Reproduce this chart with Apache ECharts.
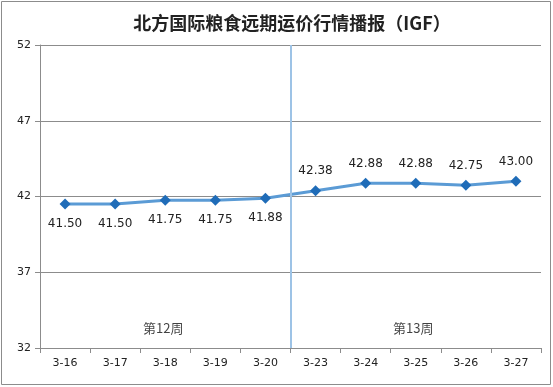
<!DOCTYPE html>
<html><head><meta charset="utf-8">
<script src="https://cdn.jsdelivr.net/npm/echarts@6/dist/echarts.min.js"></script>
<style>html,body{margin:0;padding:0;background:#fff}#c{width:553px;height:387px}</style>
</head><body><div id="c"></div>
<script>
const categories = ['3-16','3-17','3-18','3-19','3-20','3-23','3-24','3-25','3-26','3-27'];
const prices = [41.50, 41.50, 41.75, 41.75, 41.88, 42.38, 42.88, 42.88, 42.75, 43.00];
const labelBelow = [true, true, true, true, true, false, false, false, false, false];
const weekLabels = ['第12周', '第13周'];
const weekCenters = [2.46, 7.45];
const weekLabelY = 33.3;
const weekBoundary = 5;
const yTicks = [32, 37, 42, 47, 52];

const chart = echarts.init(document.getElementById('c'));
const font = 'DejaVu Sans, sans-serif';
chart.setOption({
  animation: false,
  title: {
    text: '北方国际粮食远期运价行情播报（IGF）',
    left: 287, textAlign: 'center', top: 9,
    textStyle: { fontSize: 18, fontWeight: 'bold', color: '#222', fontFamily: 'Noto Sans CJK SC, sans-serif' }
  },
  graphic: [{ type: 'rect', shape: { x: 1.5, y: 1.5, width: 549, height: 383 }, style: { fill: 'none', stroke: '#8c8c8c', lineWidth: 1 } }],
  grid: { left: 40, right: 12, top: 45, bottom: 39 },
  xAxis: [{
    type: 'category', data: categories, boundaryGap: true,
    axisLine: { lineStyle: { color: '#8c8c8c' } },
    axisTick: { show: true, length: 5, lineStyle: { color: '#8c8c8c' } },
    axisLabel: { color: '#222', fontSize: 11, fontFamily: font, margin: 10 }
  }, {
    type: 'value', min: 0, max: 10, show: false
  }],
  yAxis: {
    type: 'value', min: yTicks[0], max: yTicks[yTicks.length - 1], interval: 5,
    axisLine: { show: true, lineStyle: { color: '#8c8c8c' } },
    axisTick: { show: true, length: 5, lineStyle: { color: '#8c8c8c' } },
    axisLabel: { color: '#222', fontSize: 11, fontFamily: font, margin: 9 },
    splitLine: { lineStyle: { color: '#8c8c8c' } }
  },
  series: [{
    type: 'line', data: prices.map((v, i) => ({
      value: v,
      label: { position: labelBelow[i] ? 'bottom' : 'top' }
    })),
    symbol: 'diamond', symbolSize: 11,
    lineStyle: { color: '#5b9bd5', width: 3 },
    itemStyle: { color: '#1f6cb8' },
    label: { show: true, color: '#222', fontSize: 12, fontFamily: font, distance: 8, formatter: p => p.value.toFixed(2) },
    z: 3
  }, {
    type: 'scatter', xAxisIndex: 1, symbolSize: 0,
    data: weekCenters.map((x, i) => ({ value: [x, weekLabelY], name: weekLabels[i] })),
    label: { show: true, position: 'inside', formatter: p => p.name, color: '#111', fontSize: 13, fontFamily: 'Noto Sans CJK SC, sans-serif' },
    markLine: {
      symbol: 'none', silent: true, label: { show: false },
      lineStyle: { color: '#9dc3e6', width: 2, type: 'solid' },
      data: [{ xAxis: weekBoundary }]
    }
  }]
});
</script></body></html>
